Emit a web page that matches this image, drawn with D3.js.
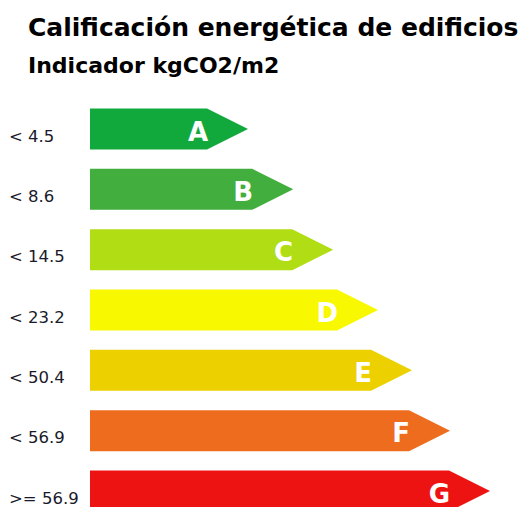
<!DOCTYPE html>
<html><head><meta charset="utf-8">
<script src="https://cdn.jsdelivr.net/npm/d3@7"></script>
<style>body{margin:0;background:#fff}svg{display:block}</style>
</head><body>
<script>
const letters = ["A","B","C","D","E","F","G"];
const thresholds = ["< 4.5","< 8.6","< 14.5","< 23.2","< 50.4","< 56.9",">= 56.9"];
const barLengths = [39.5, 50.8, 60.8, 72, 80.5, 90, 100];
const colors = ["#12a93c","#41ae3d","#b0dd13","#f8f800","#ecd000","#ee6c1e","#ee1313"];
const titleText = "Calificación energética de edificios";
const subtitleText = "Indicador kgCO2/m2";

const W = 525, H = 507;
const svg = d3.select("body").append("svg").attr("width", W).attr("height", H);

const x = d3.scaleLinear().domain([0, 100]).range([90, 490]);
const y = d3.scalePoint().domain(letters).range([129, 491]);
const barH = 41, head = 41;

svg.append("text").attr("x", 28).attr("y", 36)
  .attr("font-family", "DejaVu Sans").attr("font-weight", "bold").attr("font-size", 25)
  .attr("fill", "#000").text(titleText);
svg.append("text").attr("x", 28).attr("y", 73)
  .attr("font-family", "DejaVu Sans").attr("font-weight", "bold").attr("font-size", 22)
  .attr("fill", "#000").text(subtitleText);

const data = letters.map((l, i) => ({l, t: thresholds[i], v: barLengths[i], c: colors[i]}));
const g = svg.selectAll("g.bar").data(data).join("g").attr("class", "bar");

g.append("path")
  .attr("d", d => {
    const x0 = x(0), x1 = x(d.v), cy = y(d.l);
    const top = cy - barH / 2, bot = cy + barH / 2;
    return `M${x0},${top}L${x1 - head},${top}L${x1},${cy}L${x1 - head},${bot}L${x0},${bot}Z`;
  })
  .attr("fill", d => d.c);

g.append("text")
  .attr("x", d => x(d.v) - 40)
  .attr("y", d => y(d.l) + 11.5)
  .attr("text-anchor", "end")
  .attr("font-family", "DejaVu Sans").attr("font-weight", "bold").attr("font-size", 26)
  .attr("fill", "#fff").text(d => d.l);

g.append("text")
  .attr("x", 9)
  .attr("y", d => y(d.l) + 12.5)
  .attr("font-family", "DejaVu Sans").attr("font-size", 16.5)
  .attr("fill", "#1a1a2a").text(d => d.t);
</script>
</body></html>
